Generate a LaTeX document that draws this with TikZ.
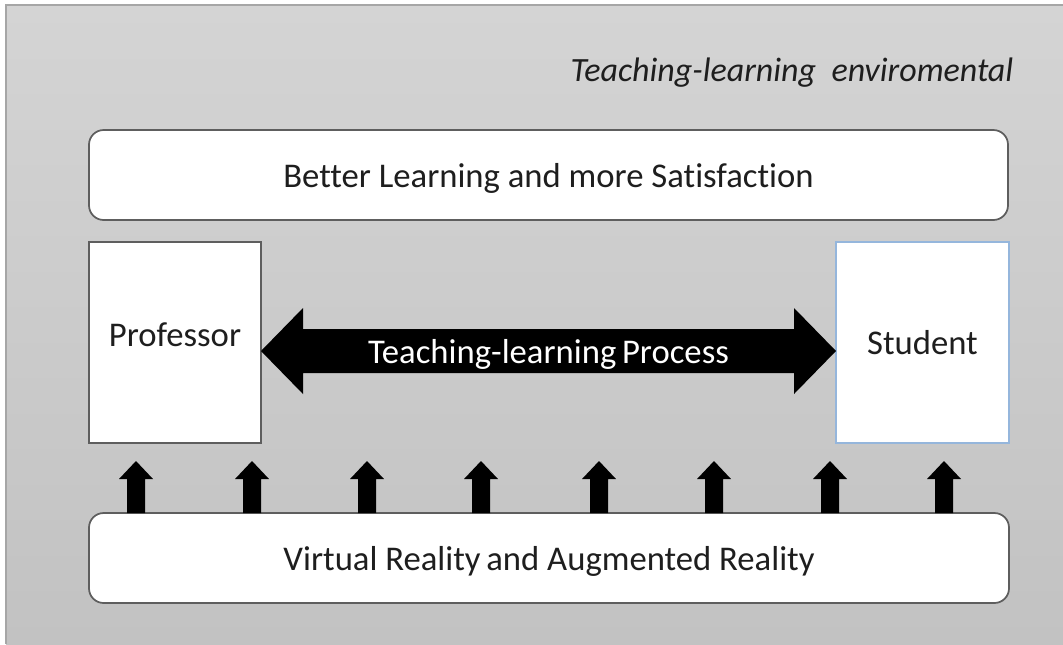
\documentclass[tikz,border=0pt]{standalone}
\usepackage{fontspec}
\setmainfont{Carlito}[Ligatures=NoCommon]
\usetikzlibrary{calc}
\definecolor{panelTop}{HTML}{D4D4D4}
\definecolor{panelBot}{HTML}{C2C2C2}
\definecolor{panelEdge}{HTML}{A6A6A6}
\definecolor{boxEdge}{HTML}{5E5E5E}
\definecolor{studEdge}{HTML}{95B6DC}
\definecolor{ink}{HTML}{1E1E1E}
\tikzset{
  roundbox/.style={draw=boxEdge, line width=1.3pt, fill=white, rounded corners=11pt,
    inner sep=0pt, outer sep=0pt, minimum height=67.5pt, text=ink, text depth=0pt,
    font=\fontsize{26}{31}\selectfont},
  actor/.style={fill=white, inner sep=0pt, outer sep=0pt, minimum height=150.75pt,
    text=ink, font=\fontsize{26}{31}\selectfont},
  blockarrow/.style={fill=black},
}
\begin{document}
\begin{tikzpicture}[x=0.75pt, y=-0.75pt]
  \useasboundingbox (0,0) rectangle (1063,644);
  % backdrop panel
  \fill[white] (0,0) rectangle (1063,644);
  \shade[top color=panelTop, bottom color=panelBot] (6,5) rectangle (1063,644);
  \draw[panelEdge, line width=0.9pt] (6,644) -- (6,5) -- (1063,5);

  % heading
  \node[anchor=base east, text=ink, font=\fontsize{25.5}{30}\selectfont\itshape]
    (env) at (1018,81) {Teaching-learning\ \ enviromental};

  % outcome box
  \node[roundbox, minimum width=689.25pt] (out) at (548.5,175)
    {Better Learning and more Satisfaction};

  % actors
  \node[actor, draw=boxEdge, line width=1pt, minimum width=129pt, text depth=12pt]
    (prof) at (175,342.5) {Professor};
  \node[actor, draw=studEdge, line width=0.9pt, minimum width=129.75pt, text depth=0pt]
    (stud) at (922.5,342.5) {Student};

  % two-headed process arrow between the actors
  \coordinate (L) at (prof.east |- 0,351);
  \coordinate (R) at (stud.west |- 0,351);
  \fill[blockarrow] (L) -- ++(42,-43) -- ++(0,21) -- ($(R)+(-42,-22)$) -- ++(0,-21)
    -- (R) -- ++(-42,43) -- ++(0,-21) -- ($(L)+(42,22)$) -- ++(0,21) -- cycle;
  \node[text=white, text depth=0pt, font=\fontsize{26}{31}\selectfont] (proc)
    at ($(L)!0.5!(R)$) {Teaching-learning\,Process};

  % technology base
  \node[roundbox, minimum width=690pt] (vr) at (549,558)
    {Virtual Reality\,and Augmented Reality};

  % supporting arrows rising from the base
  \foreach \x in {136,252,367,481,599,714,830,944}{
    \fill[blockarrow] (\x,0 |- vr.north) ++(-9,0) -- ++(0,-34) -- ++(-8,0)
      -- ++(17,-18) -- ++(17,18) -- ++(-8,0) -- ++(0,34) -- cycle;
  }
\end{tikzpicture}
\end{document}
